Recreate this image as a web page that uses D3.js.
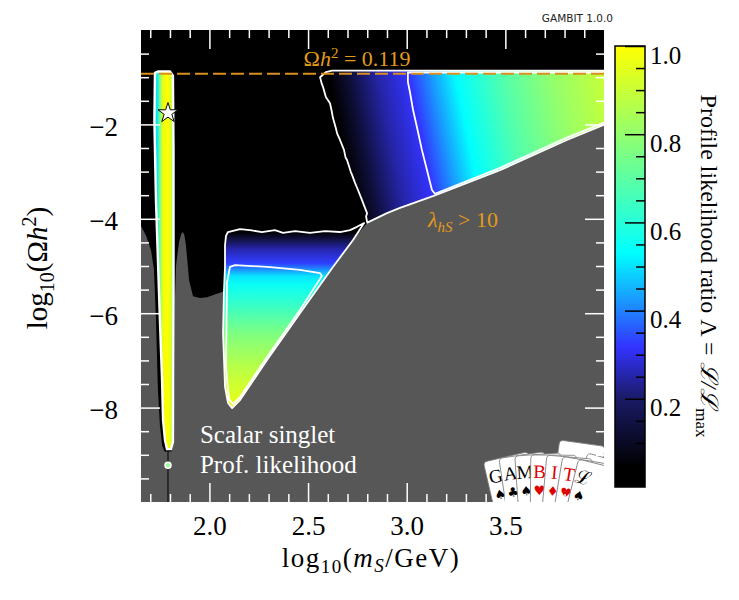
<!DOCTYPE html>
<html>
<head>
<meta charset="utf-8">
<script src="https://cdn.jsdelivr.net/npm/d3@7"></script>
<style>
  body { margin: 0; background: #fff; }
</style>
</head>
<body>
<div id="chart"></div>
<script>
// axis ranges and ticks
var x_domain = [1.6532, 4.0];     // log10(mS/GeV), 45 GeV .. 10 TeV
var y_domain = [-10, 0];          // log10(Omega h^2)
var x_ticks = [2.0, 2.5, 3.0, 3.5];
var y_ticks = [-2, -4, -6, -8];
var cbar_ticks = [0.2, 0.4, 0.6, 0.8, 1.0];

// colour map of the profile likelihood ratio
var cmap_lambda = [0, 0.045, 0.2, 0.317, 0.53, 1.0];
var cmap_colors = ['#000000', '#000000', '#1a1a66', '#3333ff', '#00ffff', '#ffff00'];

var omega_h2 = 0.119;
var best_fit = [1.790, -1.76];

// upper edge of the grey (excluded) area, [log10 mS, log10 Omega h2]
var excluded_edge = [
  [1.653, -4.15], [1.679, -4.36], [1.704, -4.66], [1.719, -5.08], [1.729, -6.14],
  [1.739, -7.63], [1.749, -8.37], [1.760, -8.80], [1.772, -8.93], [1.808, -8.93],
  [1.820, -8.69], [1.825, -5.72], [1.831, -4.98], [1.846, -4.49], [1.858, -4.31],
  [1.866, -4.28], [1.874, -4.36], [1.881, -4.56], [1.897, -5.30], [1.917, -5.64],
  [1.952, -5.68], [1.988, -5.66], [2.038, -5.59], [2.064, -5.55], [2.079, -5.51],
  [2.074, -6.57], [2.079, -7.63], [2.094, -7.90], [2.115, -8.01], [2.155, -7.84],
  [2.292, -6.99], [2.459, -6.00], [2.626, -5.02], [2.728, -4.45], [2.799, -4.09],
  [2.900, -3.88], [2.966, -3.77], [3.133, -3.52], [3.473, -2.97], [3.812, -2.33],
  [4.000, -2.01]
];

// high mass region: outer contour, inner contour, likelihood ratio along x
var heavy_outer = [
  [4.000, -2.01], [3.812, -2.33], [3.473, -2.97], [3.133, -3.52], [2.966, -3.77],
  [2.900, -3.88], [2.800, -4.08], [2.794, -3.95], [2.799, -3.88], [2.783, -3.71],
  [2.773, -3.60], [2.753, -3.39], [2.738, -3.24], [2.722, -3.06], [2.717, -3.01],
  [2.697, -2.75], [2.690, -2.70], [2.682, -2.54], [2.662, -2.33], [2.648, -2.20],
  [2.641, -2.08], [2.626, -1.86], [2.619, -1.70], [2.611, -1.55], [2.590, -1.42],
  [2.576, -1.21], [2.568, -1.12], [2.561, -1.00], [2.591, -0.89], [2.621, -0.86],
  [4.000, -0.86]
];
var heavy_inner = [
  [4.000, -0.90], [3.006, -0.90], [3.006, -1.10], [3.017, -1.33], [3.032, -1.69],
  [3.052, -2.06], [3.077, -2.54], [3.103, -2.97], [3.128, -3.39], [3.143, -3.47],
  [3.473, -2.92], [3.812, -2.28], [4.000, -1.96]
];
var heavy_lambda_x = [2.600, 2.700, 2.850, 3.006, 3.118, 3.245, 3.473, 3.726, 4.000];
var heavy_lambda = [0.02, 0.13, 0.25, 0.317, 0.42, 0.53, 0.68, 0.80, 0.90];

// mid mass triangle: outer contour, inner contour, likelihood ratio along y
var mid_outer = [
  [2.094, -4.28], [2.155, -4.22], [2.206, -4.24], [2.266, -4.28], [2.332, -4.24],
  [2.373, -4.30], [2.434, -4.26], [2.510, -4.30], [2.586, -4.26], [2.662, -4.28],
  [2.713, -4.24], [2.748, -4.17], [2.784, -4.09], [2.728, -4.45], [2.626, -5.02],
  [2.459, -6.00], [2.292, -6.99], [2.155, -7.84], [2.115, -8.01], [2.094, -7.90],
  [2.079, -7.56], [2.069, -6.42], [2.074, -5.51], [2.079, -5.02], [2.079, -4.56],
  [2.084, -4.36]
];
var mid_inner = [
  [2.104, -5.02], [2.130, -4.98], [2.292, -5.02], [2.459, -5.08], [2.560, -5.15],
  [2.570, -5.21], [2.459, -5.93], [2.292, -6.93], [2.155, -7.78], [2.120, -7.92],
  [2.099, -7.82], [2.084, -7.14], [2.089, -5.36]
];
var mid_lambda_y = [-4.28, -4.45, -4.66, -4.94, -5.21, -5.40, -5.72, -6.42, -7.14, -7.94];
var mid_lambda = [0.04, 0.16, 0.26, 0.33, 0.50, 0.55, 0.61, 0.76, 0.87, 0.96];

// resonance strip at mS ~ mh/2
var res_outer = [
  [1.739, -0.88], [1.724, -0.91], [1.721, -1.91], [1.729, -3.60], [1.739, -4.87],
  [1.749, -6.14], [1.760, -7.42], [1.765, -8.26], [1.775, -8.69], [1.785, -8.88],
  [1.805, -8.88], [1.815, -8.73], [1.818, -5.72], [1.818, -2.54], [1.815, -0.97],
  [1.800, -0.88]
];
var res_lambda_x = [1.734, 1.749, 1.765, 1.790, 1.805, 1.815];
var res_lambda = [0.50, 0.75, 0.97, 1.00, 0.93, 0.80];
var res_blob = [1.790, -9.22];

// logo cards
var card_letters = ['G', 'A', 'M', 'B', 'I', 'T', '\u2112'];
var card_suits = ['\u2660', '\u2663', '\u2660', '\u2665', '\u2666', '\u2665', '\u2660'];

var serif = '"Liberation Serif", "DejaVu Serif", serif';

// scales
var x_scale = d3.scaleLinear().domain(x_domain).range([141, 604]);
var y_scale = d3.scaleLinear().domain(y_domain).range([502, 30]);
var c_scale = d3.scaleLinear().domain(cmap_lambda).range(cmap_colors);
var cbar_scale = d3.scaleLinear().domain([0, 1]).range([487, 46]);

var svg = d3.select('#chart').append('svg')
  .attr('width', 739).attr('height', 600)
  .style('font-family', serif);
var defs = svg.append('defs');

defs.append('clipPath').attr('id', 'plot-clip')
  .append('rect')
  .attr('x', 141).attr('y', 30).attr('width', 463).attr('height', 472);

function add_gradient(id, pos, lambda, horizontal) {
  var sc = horizontal ? x_scale : y_scale;
  var p = pos.map(sc);
  var n = p.length - 1;
  var g = defs.append('linearGradient').attr('id', id)
    .attr('gradientUnits', 'userSpaceOnUse');
  if (horizontal) g.attr('x1', p[0]).attr('x2', p[n]).attr('y1', 0).attr('y2', 0);
  else g.attr('x1', 0).attr('x2', 0).attr('y1', p[0]).attr('y2', p[n]);
  g.selectAll('stop').data(lambda).join('stop')
    .attr('offset', function(d, i) { return (p[i] - p[0]) / (p[n] - p[0]); })
    .attr('stop-color', function(d) { return c_scale(d); });
  return g;
}

// the iso-lines of the high mass region lean to the right going down
var y_ref = y_scale(-0.86);
add_gradient('grad-heavy', heavy_lambda_x, heavy_lambda, true)
  .attr('gradientTransform', 'translate(' + (-0.2 * y_ref) + ',0) skewX(11.3)');
add_gradient('grad-mid', mid_lambda_y, mid_lambda, false);
add_gradient('grad-res', res_lambda_x, res_lambda, true);

var line = d3.line()
  .x(function(d) { return x_scale(d[0]); })
  .y(function(d) { return y_scale(d[1]); });

var plot = svg.append('g').attr('clip-path', 'url(#plot-clip)');

plot.append('rect')
  .attr('x', 141).attr('y', 30).attr('width', 463).attr('height', 472)
  .attr('fill', '#000');

// excluded region
plot.append('path')
  .attr('d', line(excluded_edge.concat([[x_domain[1], y_domain[0]], [x_domain[0], y_domain[0]]])) + 'Z')
  .attr('fill', '#575757');

// thin gap below the resonance strip
plot.append('line')
  .attr('x1', x_scale(1.790)).attr('x2', x_scale(1.790))
  .attr('y1', y_scale(-8.9)).attr('y2', y_scale(-10))
  .attr('stroke', '#000').attr('stroke-width', 1);

// allowed regions
plot.append('path').attr('d', line(heavy_outer) + 'Z').attr('fill', 'url(#grad-heavy)');
plot.append('path').attr('d', line(mid_outer) + 'Z').attr('fill', 'url(#grad-mid)');
plot.append('path').attr('d', line(res_outer) + 'Z').attr('fill', 'url(#grad-res)');

// contours
var contours = [
  { pts: heavy_outer, closed: false },
  { pts: heavy_inner, closed: false },
  { pts: mid_outer, closed: true },
  { pts: mid_inner, closed: true },
  { pts: res_outer, closed: true }
];
plot.selectAll('.contour').data(contours).join('path')
  .attr('class', 'contour')
  .attr('d', function(d) { return line(d.pts) + (d.closed ? 'Z' : ''); })
  .attr('fill', 'none')
  .attr('stroke', '#fff')
  .attr('stroke-width', function(d) { return d.pts === res_outer ? 2.4 : 1.8; })
  .attr('stroke-linejoin', 'round');

plot.append('circle')
  .attr('cx', x_scale(res_blob[0])).attr('cy', y_scale(res_blob[1])).attr('r', 3)
  .attr('fill', '#9fffa0').attr('stroke', '#fff').attr('stroke-width', 1.5);

// relic density line
var y_relic = y_scale(Math.log10(omega_h2));
plot.append('line')
  .attr('x1', x_scale(x_domain[0])).attr('x2', x_scale(x_domain[1]))
  .attr('y1', y_relic).attr('y2', y_relic)
  .attr('stroke', '#d9901c').attr('stroke-width', 2)
  .attr('stroke-dasharray', '13,5');

// best fit point
plot.append('path')
  .attr('d', d3.symbol(d3.symbolStar, 125)())
  .attr('transform', 'translate(' + x_scale(best_fit[0]) + ',' + y_scale(best_fit[1]) + ')')
  .attr('fill', '#fff').attr('stroke', '#000').attr('stroke-width', 1);

// annotations
var relic_text = plot.append('text')
  .attr('x', x_scale(2.748)).attr('y', y_scale(-0.773))
  .attr('text-anchor', 'middle').attr('font-size', 22).attr('fill', '#e39b1b');
relic_text.append('tspan').text('\u03A9');
relic_text.append('tspan').attr('font-style', 'italic').text('h');
relic_text.append('tspan').attr('font-size', 15).attr('dy', -8).text('2');
relic_text.append('tspan').attr('dy', 8).text(' = 0.119');

var lam_text = plot.append('text')
  .attr('x', x_scale(3.108)).attr('y', y_scale(-4.17))
  .attr('font-size', 22).attr('fill', '#e39b1b');
lam_text.append('tspan').attr('font-style', 'italic').text('\u03BB');
lam_text.append('tspan').attr('font-style', 'italic').attr('font-size', 15).attr('dy', 5).text('hS');
lam_text.append('tspan').attr('dy', -5).text(' > 10');

plot.append('text')
  .attr('x', x_scale(1.952)).attr('y', y_scale(-8.75))
  .attr('font-size', 25).attr('fill', '#fff').text('Scalar singlet');
plot.append('text')
  .attr('x', x_scale(1.952)).attr('y', y_scale(-9.39))
  .attr('font-size', 25).attr('fill', '#fff').text('Prof. likelihood');

// GAMBIT cards logo
var logo = plot.append('g').attr('transform', 'translate(537,659)');
logo.selectAll('.back').data([8, 16]).join('rect')
  .attr('class', 'back')
  .attr('transform', function(d) { return 'rotate(' + d + ')'; })
  .attr('x', -8).attr('y', function(d, i) { return i === 0 ? -220 : -212; })
  .attr('width', 46).attr('height', 230).attr('rx', 4)
  .attr('fill', '#fff').attr('stroke', '#777').attr('stroke-width', 0.8);
var cards = logo.selectAll('.card').data(card_letters).join('g')
  .attr('class', 'card')
  .attr('transform', function(d, i) { return 'rotate(' + (-13 + 4.5 * i) + ')'; });
cards.append('rect')
  .attr('x', -8).attr('y', -204).attr('width', 46).attr('height', 230).attr('rx', 4)
  .attr('fill', '#fff').attr('stroke', '#777').attr('stroke-width', 0.8);
function card_colour(d, i) {
  return '\u2665\u2666'.indexOf(card_suits[i]) >= 0 ? '#e00000' : '#000';
}
cards.append('text')
  .attr('x', 1).attr('y', -181).attr('text-anchor', 'middle').attr('font-size', 19)
  .attr('fill', card_colour)
  .text(function(d) { return d; });
cards.append('text')
  .attr('x', 1).attr('y', -164).attr('text-anchor', 'middle').attr('font-size', 13)
  .style('font-family', '"DejaVu Sans", sans-serif')
  .attr('fill', card_colour)
  .text(function(d, i) { return card_suits[i]; });

// ticks
function style_axis(g, color, size) {
  g.select('.domain').remove();
  g.selectAll('.tick line').attr('stroke', color).attr('stroke-width', 1.5);
  g.attr('font-family', null).attr('font-size', size || 27);
  g.selectAll('text').attr('fill', '#000');
}
var x_minor = d3.range(1.7, 3.95, 0.1).filter(function(v) {
  return x_ticks.every(function(t) { return Math.abs(t - v) > 0.01; });
});
var y_minor = d3.range(-9.5, -0.4, 0.5).filter(function(v) {
  return y_ticks.indexOf(v) < 0;
});

svg.append('g').attr('transform', 'translate(0,502)')
  .call(d3.axisBottom(x_scale).tickValues(x_ticks).tickSize(-19).tickPadding(14).tickFormat(d3.format('.1f')))
  .call(style_axis, '#fff');
svg.append('g').attr('transform', 'translate(0,502)')
  .call(d3.axisBottom(x_scale).tickValues(x_minor).tickSize(-8).tickFormat(''))
  .call(style_axis, '#fff');
svg.append('g').attr('transform', 'translate(0,30)')
  .call(d3.axisTop(x_scale).tickValues(x_ticks).tickSize(-19).tickFormat(''))
  .call(style_axis, '#fff');
svg.append('g').attr('transform', 'translate(0,30)')
  .call(d3.axisTop(x_scale).tickValues(x_minor).tickSize(-8).tickFormat(''))
  .call(style_axis, '#fff');

var y_axis_g = svg.append('g').attr('transform', 'translate(141,0)')
  .call(d3.axisLeft(y_scale).tickValues(y_ticks).tickSize(-19).tickPadding(23).tickFormat(d3.format('d')))
  .call(style_axis, '#fff');
y_axis_g.selectAll('text').attr('dy', '0.4em');
svg.append('g').attr('transform', 'translate(141,0)')
  .call(d3.axisLeft(y_scale).tickValues(y_minor).tickSize(-8).tickFormat(''))
  .call(style_axis, '#fff');
svg.append('g').attr('transform', 'translate(604,0)')
  .call(d3.axisRight(y_scale).tickValues(y_ticks).tickSize(-19).tickFormat(''))
  .call(style_axis, '#fff');
svg.append('g').attr('transform', 'translate(604,0)')
  .call(d3.axisRight(y_scale).tickValues(y_minor).tickSize(-8).tickFormat(''))
  .call(style_axis, '#fff');

// axis titles
var x_title = svg.append('text')
  .attr('x', 371).attr('y', 567).attr('text-anchor', 'middle').attr('font-size', 27)
  .attr('letter-spacing', 1.5);
x_title.append('tspan').text('log');
x_title.append('tspan').attr('font-size', 19).attr('dy', 6).text('10');
x_title.append('tspan').attr('dy', -6).text('(');
x_title.append('tspan').attr('font-style', 'italic').text('m');
x_title.append('tspan').attr('font-style', 'italic').attr('font-size', 19).attr('dy', 5).text('S');
x_title.append('tspan').attr('dy', -5).text('/GeV)');

var y_title = svg.append('text')
  .attr('transform', 'translate(47,268) rotate(-90)')
  .attr('text-anchor', 'middle').attr('font-size', 29);
y_title.append('tspan').text('log');
y_title.append('tspan').attr('font-size', 20).attr('dy', 7).text('10');
y_title.append('tspan').attr('dy', -7).text('(\u03A9');
y_title.append('tspan').attr('font-style', 'italic').text('h');
y_title.append('tspan').attr('font-size', 20).attr('dy', -11).text('2');
y_title.append('tspan').attr('dy', 11).text(')');

svg.append('text')
  .attr('x', 613).attr('y', 22).attr('text-anchor', 'end')
  .style('font-family', '"DejaVu Sans", sans-serif').attr('font-size', 10.5)
  .attr('fill', '#222').text('GAMBIT 1.0.0');

// colour bar
var cbar_grad = defs.append('linearGradient').attr('id', 'grad-cbar')
  .attr('x1', 0).attr('y1', 1).attr('x2', 0).attr('y2', 0);
cbar_grad.selectAll('stop').data(cmap_lambda).join('stop')
  .attr('offset', function(d) { return d; })
  .attr('stop-color', function(d, i) { return cmap_colors[i]; });

svg.append('rect')
  .attr('x', 615).attr('y', cbar_scale(1)).attr('width', 30).attr('height', cbar_scale(0) - cbar_scale(1))
  .attr('fill', 'url(#grad-cbar)').attr('stroke', '#000').attr('stroke-width', 1.5);

var cbar_minor = d3.range(0.05, 0.99, 0.05).filter(function(v) {
  return cbar_ticks.every(function(t) { return Math.abs(t - v) > 0.01; });
});
var cbar_axis = svg.append('g').attr('transform', 'translate(645,0)')
  .call(d3.axisRight(cbar_scale).tickValues(cbar_ticks).tickSize(-20).tickPadding(5).tickFormat(d3.format('.1f')))
  .call(style_axis, '#000', 25);
cbar_axis.selectAll('text').attr('dy', '0.68em');
svg.append('g').attr('transform', 'translate(645,0)')
  .call(d3.axisRight(cbar_scale).tickValues(cbar_minor).tickSize(-9).tickFormat(''))
  .call(style_axis, '#000');

var c_title = svg.append('text')
  .attr('transform', 'translate(701,266) rotate(90)')
  .attr('text-anchor', 'middle').attr('font-size', 24);
c_title.append('tspan').text('Profile likelihood ratio \u039B = ');
c_title.append('tspan').attr('font-style', 'italic').text('\u2112/\u2112');
c_title.append('tspan').attr('font-size', 17).attr('dy', 5).text('max');
</script>
</body>
</html>
